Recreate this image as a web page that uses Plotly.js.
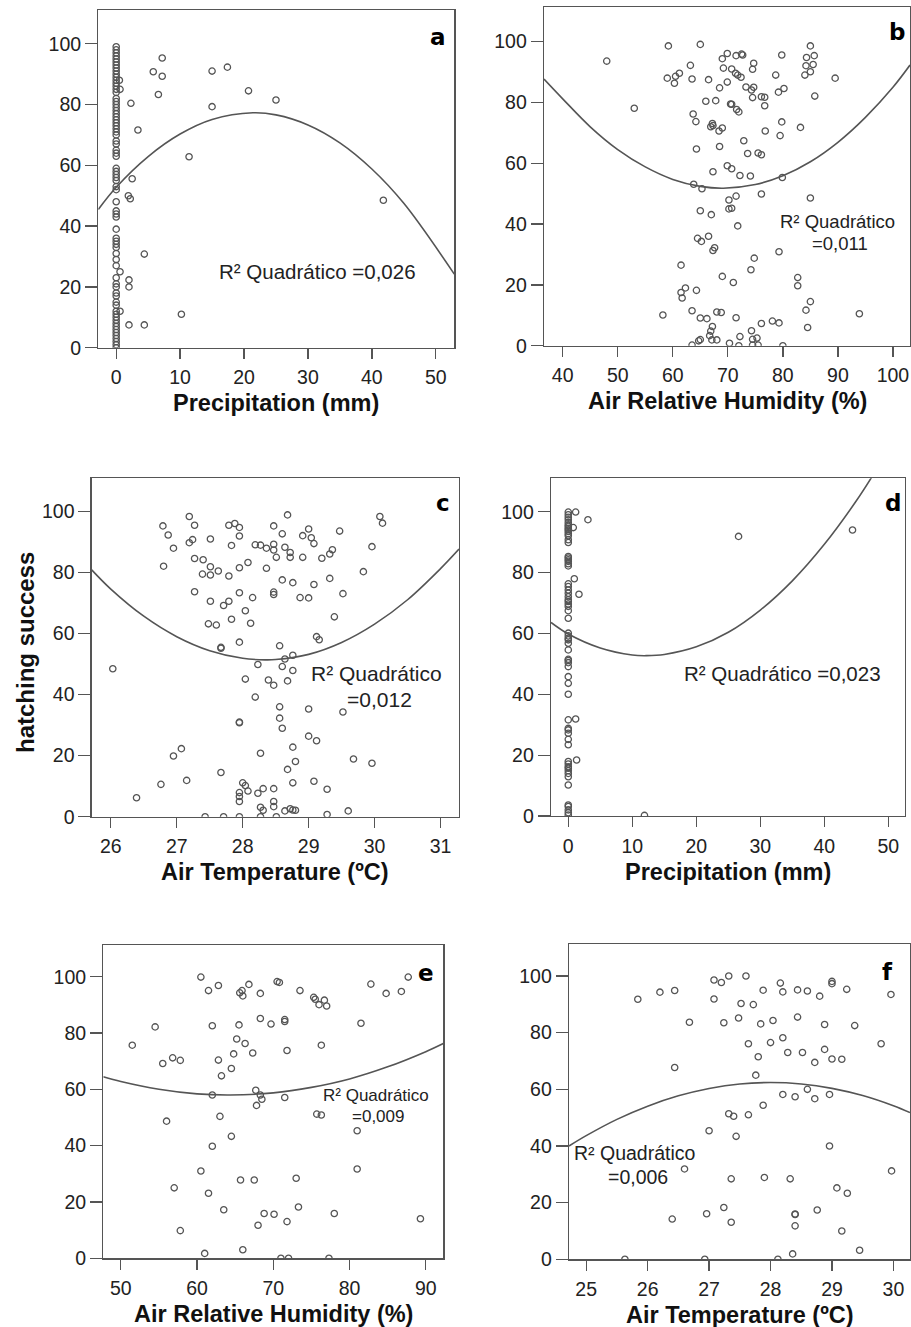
<!DOCTYPE html>
<html><head><meta charset="utf-8">
<script src="https://cdn.plot.ly/plotly-3.0.1.min.js"></script>
<style>html,body{margin:0;padding:0;background:#fff}#chart{width:911px;height:1327px}</style>
</head><body><div id="chart"></div>
<script>
// ---------- data ----------
const hsTicks = [0,20,40,60,80,100];
const precipTicks = [0,10,20,30,40,50];
const humidTicksB = [40,50,60,70,80,90,100];
const tempTicksC = [26,27,28,29,30,31];
const humidTicksE = [50,60,70,80,90];
const tempTicksF = [25,26,27,28,29,30];

const xTitles = ['Precipitation (mm)','Air Relative Humidity (%)','Air Temperature (ºC)','Precipitation (mm)','Air Relative Humidity (%)','Air Temperature (ºC)'];
const letters = ['a','b','c','d','e','f'];
const r2Label = 'R² Quadrático';
const r2Values = ['0,026','0,011','0,012','0,023','0,009','0,006'];
const yTitle = 'hatching success';

// panel a
const aX = [0,0,0,0,0,0,0,0,0,0, 0,0,0,0,0,0,0,0,0,0, 0,0,0,0,0,0,0,0,0,0, 0,0,0,0,0,0,0,0,0,0,
            0,0,0,0,0,0,0,0,0,0, 0,0,0,0,0,0,0,0,0,0, 0,0,0,0,0,0,0,0,0,0, 0,0,0,
            0.5,0.6,0.6,0.6,2.3,3.4,5.8,7.2,7.2,6.6, 15.0,17.4,20.7,25.0,15.0,11.4,2.5,1.9,2.2,41.8, 4.4,2.0,2.0,2.0,4.4,10.2];
const aY = [99,98,97,96,95,94,93,92,91,90, 89,88,87,86,85,84,82,81,80,79, 78,77,76,75,74,73,72,71,70,68,
            67,65,64,63,59,58,57,56,55,53, 52,48,45,44,43,39,36,35,34,33, 31,29,27,23,21,20,18,17,15,14,
            12,11,10,9,8,7,6,5,4,3, 2,1,0,
            88,85,25,12,80.4,71.6,90.8,95.3,89.3,83.3, 91.0,92.3,84.5,81.5,79.3,62.8,55.6,50.0,49.0,48.5, 30.8,22.3,20.0,7.5,7.5,11.0];
const aFitX = [-2.8,0,5,10,15,21.4,25,30,35,40,45,52.9];
const aFitY = [45.5,52.8,62.9,70.3,75.1,77.3,76.6,73.3,67.4,58.8,47.5,24.2];

// panel b
const bX = [48.0,59.2,65.0,59.0,60.3,60.5,61.2,63.2,63.5,66.5, 69.0,69.9,71.5,72.5,72.7,69.2,70.7,71.4,71.8,72.4,
            69.9,68.5,74.7,74.5,73.3,74.3,74.7,74.5,76.1,76.7, 76.7,78.7,79.8,79.2,80.2,79.8,79.5,76.8,83.2,84.3,
            85.0,85.7,84.2,85.5,85.0,84.0,85.8,89.5,53.0,63.7, 64.2,66.0,67.8,67.2,67.3,66.9,69.0,68.4,70.5,70.7,
            71.6,72.0,72.9,73.6,75.5,76.1,68.5,64.3,69.9,70.7, 67.3,72.2,74.1,79.9,63.8,65.3,76.1,85.0,71.5,70.2,
            70.2,70.7,65.0,67.0,71.8,64.5,65.2,66.5,67.6,67.3, 79.3,74.8,74.2,61.5,69.0,71.0,82.7,82.7,62.3,61.5,
            61.7,64.3,85.0,84.2,58.2,63.5,65.0,66.2,68.0,68.8, 71.5,93.9,76.1,78.1,79.3,84.5,67.2,66.9,66.7,74.3,
            72.2,65.0,64.7,67.1,68.0,74.5,75.3,70.3,63.5,72.0, 74.5,75.5,80.0];
const bY = [93.6,98.6,99.1,88.0,86.3,88.6,89.6,92.2,87.7,87.5, 94.4,96.1,95.4,95.9,95.6,91.3,91.0,89.6,89.0,88.3,
            86.7,84.8,92.9,90.9,85.1,84.1,85.0,81.6,81.9,81.7, 78.9,89.0,95.6,83.4,84.6,73.6,69.1,70.6,71.8,94.8,
            98.6,95.4,92.1,92.5,90.1,89.0,82.1,88.0,78.1,76.2, 73.7,80.4,80.6,73.1,72.4,72.0,71.6,70.6,79.5,79.4,
            77.7,76.9,67.4,63.2,63.4,62.8,65.5,64.7,59.2,58.2, 57.2,56.0,55.8,55.3,53.1,51.6,49.9,48.6,49.2,47.9,
            45.0,45.2,44.4,43.1,39.4,35.3,34.3,36.0,32.2,31.3, 30.9,28.8,25.0,26.5,22.8,20.8,22.4,19.7,19.0,17.5,
            15.7,18.2,14.5,11.7,10.1,11.5,9.1,8.9,11.1,10.9, 9.2,10.5,7.3,8.1,7.5,6.0,6.3,4.8,3.3,4.9,
            3.0,2.0,1.6,1.9,1.9,2.1,2.5,0.8,0.2,0, 0.2,0.2,0];
const bFitX = [36.6,40,45,50,55,60,65,69.2,75,80,85,90,95,100,103.1];
const bFitY = [87.7,81.2,72.0,64.5,58.8,54.7,52.4,51.8,53.0,55.9,60.5,66.9,75.1,85.0,92.3];

// panel c
const cX = [27.19,28.68,30.08,30.12,26.79,27.27,27.79,27.88,27.95,28.47, 29.0,29.47,26.87,28.6,27.95,28.91,29.04,29.08,27.19,27.24,
            27.51,26.95,27.83,28.19,28.27,28.36,28.47,28.47,28.64,28.72, 28.72,28.51,28.91,29.2,29.32,29.36,29.96,26.8,27.27,27.40,
            27.51,27.63,27.39,27.51,27.79,27.95,28.08,28.36,28.6,28.76, 29.08,29.32,29.83,27.27,27.95,28.47,28.47,28.15,28.87,29.0,
            29.52,27.51,27.79,27.71,28.04,29.39,27.83,27.48,27.6,28.12, 29.12,29.16,27.67,27.67,27.95,28.56,28.76,28.64,28.23,28.6,
            28.76,26.03,28.04,28.39,28.68,28.47,28.19,28.56,28.56,28.6, 27.95,27.95,29.0,29.52,29.0,29.12,28.76,27.07,26.95,28.27,
            29.68,29.96,28.8,28.68,27.67,27.15,26.76,28.0,28.04,28.76, 29.08,26.39,27.95,27.95,27.95,28.08,28.23,28.31,28.47,29.28,
            28.47,28.47,28.27,28.31,28.64,28.72,28.8,28.76,29.6,29.28, 27.43,27.71,27.95,28.27,28.51];
const cY = [98.4,98.9,98.4,96.2,95.3,95.5,95.5,96.1,94.8,95.3, 94.3,93.6,92.3,92.7,92.0,92.1,91.4,89.5,89.8,90.8,
            91.0,88.0,88.9,89.1,89.0,88.0,89.3,87.4,88.3,86.6, 85.0,85.0,85.0,84.7,86.1,87.5,88.5,82.1,84.6,84.2,
            81.9,80.5,79.5,79.2,78.9,81.6,83.3,81.4,77.6,76.7, 76.1,78.1,80.3,73.7,73.4,73.6,72.8,71.8,71.8,71.7,
            73.1,70.6,70.6,69.2,67.5,65.5,64.7,63.2,62.8,63.4, 59.0,58.0,55.5,55.2,57.2,56.0,52.9,51.7,49.9,49.2,
            47.9,48.5,45.1,44.8,44.5,43.1,39.2,36.0,32.3,29.0, 31.0,30.8,35.3,34.3,26.4,24.9,22.8,22.3,19.9,20.8,
            18.9,17.5,18.1,15.5,14.5,11.9,10.6,11.1,10.2,11.1, 11.6,6.2,7.9,6.6,5.0,8.4,7.7,9.2,9.2,9.0,
            5.0,3.3,3.1,2.1,1.9,2.6,2.1,2.2,1.9,0.7, 0,0,0,0,0];
const cFitX = [25.71,26,26.5,27,27.5,28,28.34,28.5,29,29.5,30,30.5,31,31.28];
const cFitY = [80.9,74.6,65.7,59.0,54.4,51.9,51.4,51.5,53.2,57.1,63.1,71.1,81.3,87.7];

// panel d
const dX = [0,0,0,0,0,0,0,0,0,0, 0,0,0,0,0,0,0,0,0,0, 0,0,0,0,0,0,0,0,0,0, 0,0,0,0,0,0,0,0,0,0,
            0,0,0,0,0,0,0,0,0,0, 0,0,0,0,0,0,0,0,0,0, 0,0,0,
            1.15,3.07,0.78,26.6,44.4,0.94,1.67,1.15,1.3,11.9];
const dY = [99.9,99.0,98.2,97.4,96.5,95.7,95.2,94.6,94.1,93.5, 92.8,92.1,90.8,89.9,85.3,84.8,84.2,83.7,82.9,82.2,
            76.3,75.4,74.3,73.2,72.1,71.1,70.5,69.7,68.9,67.5, 65.0,60.1,59.2,58.4,57.9,56.8,54.6,51.5,51.1,50.4,
            49.1,45.8,43.6,40.0,31.6,28.8,28.3,27.2,25.2,23.4, 17.9,17.1,16.2,15.7,14.9,14.0,12.9,10.2,3.6,3.1,
            2.0,1.1,0.3,
            99.9,97.4,94.8,91.9,94.0,78.0,72.9,31.9,18.4,0.2];
const dFitX = [-2.7,0,5,10,12.25,15,20,25,30,35,40,45,48];
const dFitY = [63.6,59.8,55.2,52.9,52.7,53.1,55.6,60.4,67.7,77.3,89.3,103.6,113.4];

// panel e
const eX = [60.5,61.5,62.8,65.6,65.9,66.0,66.8,68.3,70.5,70.8, 73.5,75.3,75.5,76.0,76.7,77.0,82.8,84.8,86.8,87.7,
            54.5,62.0,65.5,68.3,69.7,71.5,71.5,81.5,51.5,65.2, 66.3,76.3,71.8,64.8,67.3,56.8,57.8,55.5,62.8,64.5,
            63.2,67.7,68.3,68.5,62.0,71.5,67.8,63.0,75.7,76.3, 56.0,81.0,64.5,62.0,81.0,60.5,65.7,67.5,73.0,57.0,
            61.5,63.5,73.3,68.8,70.1,78.0,89.3,71.8,68.0,57.8, 66.0,61.0,71.0,72.0,77.3];
const eY = [99.9,95.1,96.9,94.3,95.1,93.2,97.3,94.1,98.3,98.0, 95.1,92.7,92.0,90.1,91.7,89.6,97.4,94.1,94.8,99.9,
            82.2,82.6,82.9,85.2,83.2,84.8,84.1,83.5,75.7,77.9, 76.3,75.7,73.8,72.6,72.9,71.2,70.3,69.2,70.4,67.4,
            64.8,59.7,58.0,56.5,58.0,57.1,54.3,50.4,51.2,50.9, 48.7,45.3,43.3,39.8,31.7,31.0,27.8,27.8,28.4,25.0,
            23.1,17.2,18.2,15.9,15.6,15.9,14.0,13.0,11.7,9.8, 3.0,1.7,0,0,0];
const eFitX = [47.7,50,55,60,64.35,70,75,80,85,90,92.3];
const eFitY = [64.5,62.8,60.05,58.4,58.0,58.75,60.7,63.7,68.0,73.4,76.3];

// panel f
const fX = [25.84,26.2,26.44,26.68,26.44,27.08,27.2,27.32,27.6,27.08, 27.52,27.72,27.24,27.48,27.84,28.04,27.88,28.16,28.2,28.44,
            28.6,28.8,29.0,29.0,29.24,29.96,28.44,28.88,29.37,27.64, 28.0,28.2,27.8,28.28,28.52,28.88,28.72,29.0,29.16,29.8,
            27.76,28.2,28.4,28.6,28.72,28.96,27.88,27.32,27.4,27.64, 27.0,27.44,28.96,26.6,29.97,27.36,27.9,28.32,29.08,29.25,
            27.24,28.76,28.4,28.4,26.4,26.96,27.36,28.4,29.16,29.45, 28.36,25.63,26.93,28.12];
const fY = [91.8,94.3,94.9,83.7,67.7,98.6,97.7,100,100,91.9, 90.3,89.9,83.5,85.2,83.1,84.3,95.0,97.5,94.4,95.1,
            94.7,92.9,98.1,97.3,95.3,93.5,85.5,82.9,82.5,76.1, 76.5,78.2,71.5,73.0,73.0,74.1,69.5,70.7,70.6,76.1,
            65.0,58.2,57.4,60.0,56.7,58.2,54.4,51.4,50.5,51.0, 45.4,43.4,40.0,31.9,31.2,28.4,28.9,28.4,25.2,23.3,
            18.3,17.4,16.0,15.8,14.2,16.1,13.1,11.8,10.0,3.2, 1.9,0,0,0];
const fFitX = [24.72,25,25.5,26,26.5,27,27.5,28,28.5,29,29.5,30,30.27];
const fFitY = [40.0,43.65,49.4,54.05,57.7,60.3,61.9,62.4,61.9,60.35,57.8,54.2,51.8];

// ---------- layout geometry (pixels of the 911x1327 page) ----------
const W = 911, H = 1327;
const PX = p => p / W, PY = p => 1 - p / H;
const FONT = 'Liberation Sans, Arial, sans-serif';
const INK = '#555555';

const panels = [
  {x:aX, y:aY, fx:aFitX, fy:aFitY, xt:precipTicks, box:[98.3,454.3,10,347.7],  xr:[-2.8,52.9],   yr:[0,111.1],
   letter:[438,36.7], r2:{one:true, x:216.7, y:271.7, size:20.5}},
  {x:bX, y:bY, fx:bFitX, fy:bFitY, xt:humidTicksB, box:[544,910,7.3,345.7],     xr:[36.6,103.1],  yr:[0,111.3],
   letter:[896.7,31.7], r2:{one:false, x1:837.2, y1:221.7, x2:840.3, y2:243.3, size:18.5}},
  {x:cX, y:cY, fx:cFitX, fy:cFitY, xt:tempTicksC, box:[91.7,459,478.3,816.7],   xr:[25.71,31.28], yr:[0,110.9],
   letter:[443.3,503.3], r2:{one:false, x1:376.3, y1:673.3, x2:379, y2:699.3, size:21}},
  {x:dX, y:dY, fx:dFitX, fy:dFitY, xt:precipTicks, box:[551,905,478.3,816],     xr:[-2.7,52.6],   yr:[0,111],
   letter:[892.7,503.3], r2:{one:true, x:682.3, y:673.3, size:20.5}},
  {x:eX, y:eY, fx:eFitX, fy:eFitY, xt:humidTicksE, box:[103.3,443.3,945,1258.2], xr:[47.7,92.3],  yr:[0,111.3],
   letter:[425.7,973.3], r2:{one:false, x1:376, y1:1095.7, x2:378.3, y2:1116, size:17}},
  {x:fX, y:fY, fx:fFitX, fy:fFitY, xt:tempTicksF, box:[569,910,944,1259.3],     xr:[24.72,30.27], yr:[0,111.3],
   letter:[887.3,971.7], r2:{one:false, x1:635, y1:1153.3, x2:638.3, y2:1176.7, size:19.5}}
];

const traces = [];
const layout = {
  width: W, height: H, margin:{l:0,r:0,t:0,b:0},
  paper_bgcolor:'#fff', plot_bgcolor:'#fff', showlegend:false,
  font:{family:FONT, color:'#222'}, annotations:[]
};

panels.forEach((p, i) => {
  const n = i === 0 ? '' : String(i + 1);
  const xa = 'x' + n, ya = 'y' + n;
  traces.push({type:'scatter', mode:'markers', x:p.x, y:p.y, xaxis:xa, yaxis:ya, hoverinfo:'skip',
    marker:{symbol:'circle-open', size:6.3, color:INK, line:{width:1.3, color:INK}}});
  traces.push({type:'scatter', mode:'lines', x:p.fx, y:p.fy, xaxis:xa, yaxis:ya, hoverinfo:'skip',
    line:{color:INK, width:1.6, shape:'spline'}});
  const [l, r, t, b] = p.box;
  const common = {showline:true, mirror:true, linecolor:INK, linewidth:1.3, ticks:'outside',
    tickcolor:INK, tickwidth:1.3, showgrid:false, zeroline:false, fixedrange:true,
    tickfont:{family:FONT, size:19.5, color:'#222'}};
  layout['xaxis' + n] = Object.assign({}, common, {domain:[PX(l), PX(r)], anchor:ya, range:p.xr,
    tickmode:'array', tickvals:p.xt, ticktext:p.xt.map(String), ticklen:10, ticklabelstandoff:2});
  layout['yaxis' + n] = Object.assign({}, common, {domain:[PY(b), PY(t)], anchor:xa, range:p.yr,
    tickmode:'array', tickvals:hsTicks, ticktext:hsTicks.map(String), ticklen:12, ticklabelstandoff:0});

  // x-axis title
  layout.annotations.push({xref:'paper', yref:'paper', x:PX((l + r) / 2), y:PY(b + 55.5),
    xanchor:'center', yanchor:'middle', showarrow:false, text:'<b>' + xTitles[i] + '</b>',
    font:{family:FONT, size:23.5, color:'#111'}});
  // panel letter
  layout.annotations.push({xref:'paper', yref:'paper', x:PX(p.letter[0]), y:PY(p.letter[1]),
    xanchor:'center', yanchor:'middle', showarrow:false, text:'<b>' + letters[i] + '</b>',
    font:{family:'DejaVu Sans, sans-serif', size:23, color:'#000'}});
  // R² text
  const q = p.r2;
  if (q.one) {
    layout.annotations.push({xref:'paper', yref:'paper', x:PX(q.x), y:PY(q.y), xanchor:'left', yanchor:'middle',
      showarrow:false, text:r2Label + ' =' + r2Values[i], font:{family:FONT, size:q.size, color:'#222'}});
  } else {
    layout.annotations.push({xref:'paper', yref:'paper', x:PX(q.x1), y:PY(q.y1), xanchor:'center', yanchor:'middle',
      showarrow:false, text:r2Label, font:{family:FONT, size:q.size, color:'#222'}});
    layout.annotations.push({xref:'paper', yref:'paper', x:PX(q.x2), y:PY(q.y2), xanchor:'center', yanchor:'middle',
      showarrow:false, text:'=' + r2Values[i], font:{family:FONT, size:q.size, color:'#222'}});
  }
});

layout.annotations.push({xref:'paper', yref:'paper', x:PX(25), y:PY(653), xanchor:'center', yanchor:'middle',
  showarrow:false, textangle:-90, text:'<b>' + yTitle + '</b>', font:{family:FONT, size:24, color:'#111'}});

Plotly.newPlot('chart', traces, layout, {staticPlot:true, displayModeBar:false});
</script></body></html>
